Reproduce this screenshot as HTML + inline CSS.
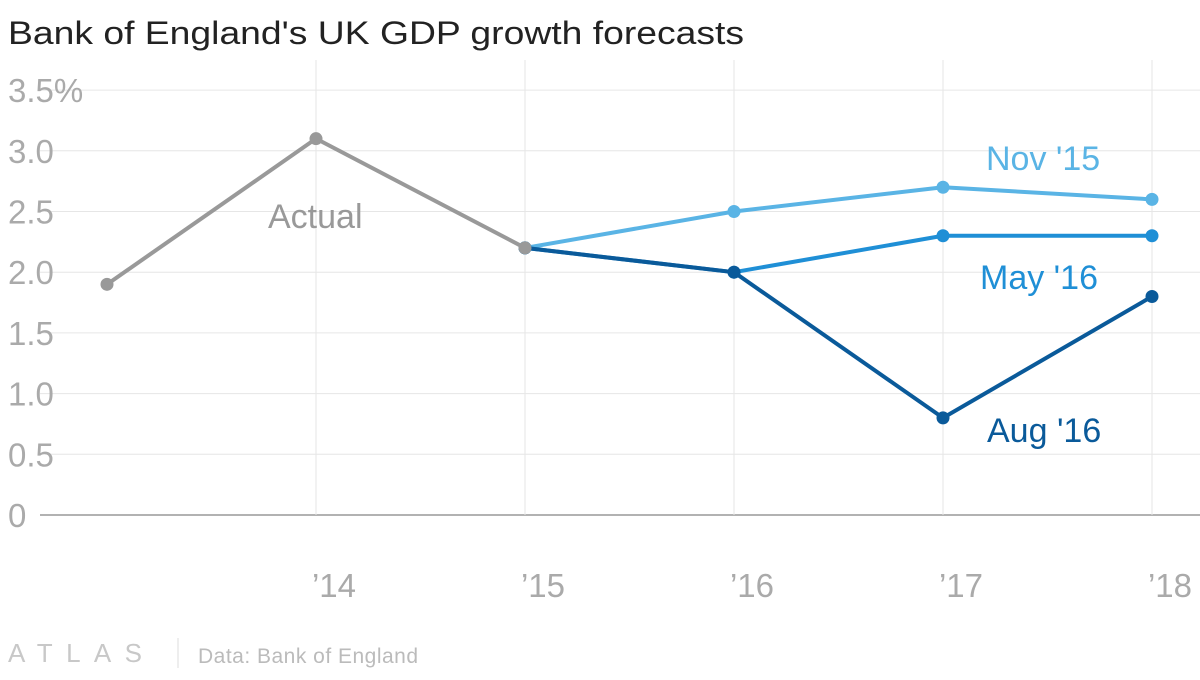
<!DOCTYPE html>
<html><head><meta charset="utf-8"><style>
body{margin:0;background:#fff;}
svg text{font-family:"Liberation Sans",sans-serif;}
</style></head><body>
<svg id="c" width="1200" height="675" xmlns="http://www.w3.org/2000/svg">
<text x="8" y="44" font-size="32" fill="#222" textLength="736" lengthAdjust="spacingAndGlyphs">Bank of England's UK GDP growth forecasts</text>
<g id="grid"></g><g id="series"></g>
<text x="8" y="662" font-size="26" fill="#c8c8c8" textLength="147" letter-spacing="13">ATLAS</text>
<line x1="178" y1="638" x2="178" y2="668" stroke="#ddd"/>
<text x="198" y="663" font-size="21" fill="#bbb" textLength="220">Data: Bank of England</text>
</svg>
<script>
const yTicks=[0,0.5,1,1.5,2,2.5,3,3.5];
const yLabels=["0","0.5","1.0","1.5","2.0","2.5","3.0","3.5%"];
const years=[2013,2014,2015,2016,2017,2018];
const xLabels=["","\u201914","\u201915","\u201916","\u201917","\u201918"];
const actualYears=[2013,2014,2015];
const actualVals=[1.9,3.1,2.2];
const fYears=[2015,2016,2017,2018];
const nov15=[2.2,2.5,2.7,2.6];
const may16=[2.2,2.0,2.3,2.3];
const aug16=[2.2,2.0,0.8,1.8];
const X=y=>107+(y-2013)*209;
const Y=v=>515-v*121.4;
const NS="http://www.w3.org/2000/svg";
function mk(t,a,p){const e=document.createElementNS(NS,t);for(const k in a)e.setAttribute(k,a[k]);p.appendChild(e);return e;}
const g=document.getElementById('grid'),s=document.getElementById('series');
yTicks.forEach((v,i)=>{
 const l=mk('line',{x1:40,x2:1200,y1:Y(v),y2:Y(v),stroke:v===0?'#999':'#e6e6e6','stroke-width':v===0?1.5:1},g);
 
 
 const t=mk('text',{x:8,y:Y(v)+12,'font-size':33,fill:'#aaa'},g);t.textContent=yLabels[i];
 
 
});
years.forEach((y,i)=>{
 if(i>0){const l=mk('line',{x1:X(y),x2:X(y),y1:60,y2:515,stroke:'#e6e6e6'},g);
 
 }
 const t=mk('text',{x:X(y)+18,y:597,'font-size':33,fill:'#aaa','text-anchor':'middle'},g);t.textContent=xLabels[i];
 
 
});
function line(xs,vs,col,name){
 const p=mk('polyline',{points:xs.map((x,i)=>X(x)+','+Y(vs[i])).join(' '),fill:'none',stroke:col,'stroke-width':4,'stroke-linejoin':'round'},s);
 
 
 xs.forEach((x,i)=>{const c=mk('circle',{cx:X(x),cy:Y(vs[i]),r:6.5,fill:col},s);
 
 });
}
line(fYears,nov15,'#5ab4e5','nov-15');
line(fYears,may16,'#1f8fd6','may-16');
line(fYears,aug16,'#0a5a9a','aug-16');
line(actualYears,actualVals,'#999','actual');
function lab(txt,x,y,col,name){const t=mk('text',{x:x,y:y,'font-size':34,fill:col},s);t.textContent=txt;
 
 }
lab('Actual',268,228,'#999','actual-label');
lab("Nov '15",986,170,'#5ab4e5','nov-15-label');
lab("May '16",980,289,'#1f8fd6','may-16-label');
lab("Aug '16",987,442,'#0a5a9a','aug-16-label');
</script>
</body></html>
